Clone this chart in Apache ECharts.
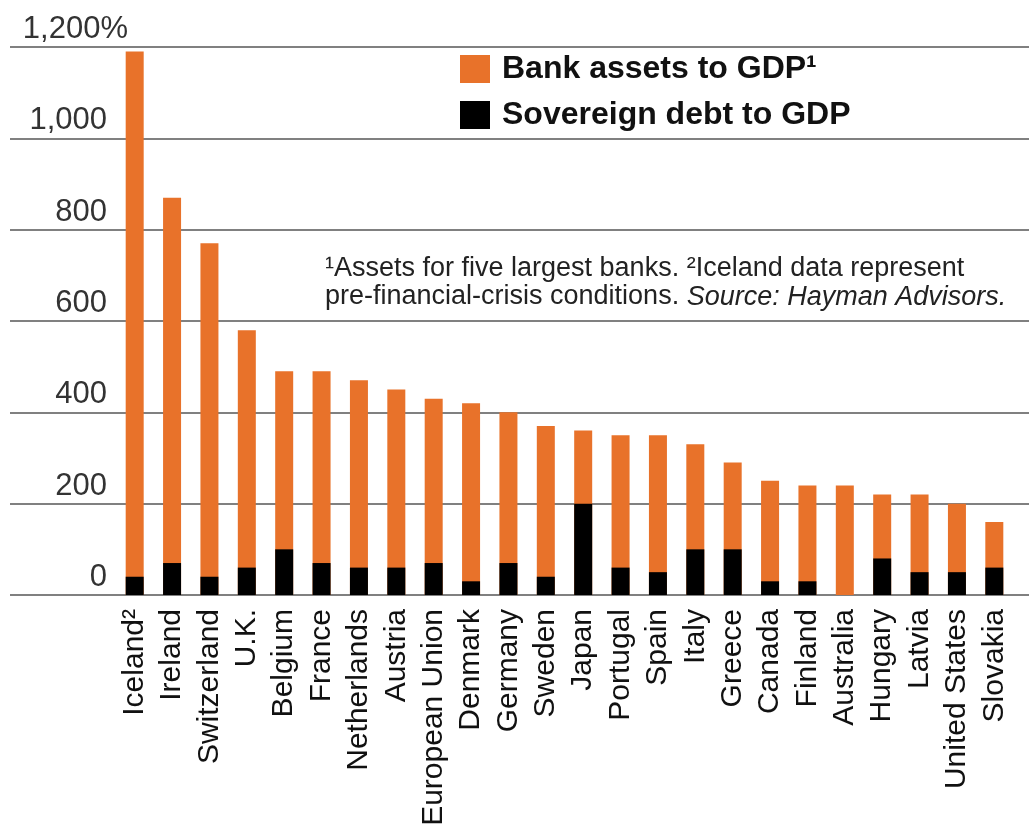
<!DOCTYPE html>
<html>
<head>
<meta charset="utf-8">
<script src="https://cdn.jsdelivr.net/npm/echarts@6/dist/echarts.min.js"></script>
<style>
  html, body { margin: 0; padding: 0; background: #fff; }
  #chart { width: 1029px; height: 830px; }
</style>
</head>
<body>
<div id="chart"></div>
<script>
const countries = ['Iceland²', 'Ireland', 'Switzerland', 'U.K.', 'Belgium', 'France', 'Netherlands',
  'Austria', 'European Union', 'Denmark', 'Germany', 'Sweden', 'Japan', 'Portugal', 'Spain',
  'Italy', 'Greece', 'Canada', 'Finland', 'Australia', 'Hungary', 'Latvia', 'United States', 'Slovakia'];
const bankAssets = [1190, 870, 770, 580, 490, 490, 470, 450, 430, 420, 400, 370, 360, 350, 350,
  330, 290, 250, 240, 240, 220, 220, 200, 160];
const sovereignDebt = [40, 70, 40, 60, 100, 70, 60, 60, 70, 30, 70, 40, 200, 60, 50,
  100, 100, 30, 30, 0, 80, 50, 50, 60];
const yTicks = [0, 200, 400, 600, 800, 1000, 1200];

let chartDom = document.getElementById('chart');
let myChart = echarts.init(chartDom);
let option;

const font = '"Liberation Sans", Arial, sans-serif';

option = {
  backgroundColor: '#fff',
  animation: false,
  textStyle: { fontFamily: font },
  legend: {
    orient: 'vertical',
    left: 455,
    top: 48,
    itemWidth: 30,
    itemHeight: 28,
    itemGap: 14,
    icon: 'rect',
    textStyle: { fontSize: 32, fontWeight: 'bold', color: '#111', fontFamily: font, padding: [0, 0, 0, 7] },
    data: ['Bank assets to GDP¹', 'Sovereign debt to GDP']
  },
  graphic: [{
    type: 'text',
    left: 325,
    top: 255,
    style: {
      text: '¹Assets for five largest banks. ²Iceland data represent\npre-financial-crisis conditions. {i|Source: Hayman Advisors.}',
      font: '27px ' + font,
      fill: '#222',
      lineHeight: 28,
      rich: { i: { fontStyle: 'italic', fontSize: 27, lineHeight: 28, fill: '#222', fontFamily: font } }
    }
  }],
  grid: [
    { left: 10, right: 0, top: 47, bottom: 235 },
    { left: 116, right: 16, top: 47, bottom: 235 }
  ],
  xAxis: [
    { gridIndex: 0, type: 'value', show: false, min: 0, max: 1 },
    {
      gridIndex: 1,
      type: 'category',
      data: countries,
      axisLine: { show: false },
      axisTick: { show: false },
      axisLabel: {
        rotate: 90,
        interval: 0,
        margin: 14,
        fontSize: 30,
        color: '#111',
        fontFamily: font
      }
    }
  ],
  yAxis: [
    {
      gridIndex: 0,
      type: 'value',
      min: yTicks[0],
      max: yTicks[yTicks.length - 1],
      interval: 200,
      axisLine: { show: false },
      axisTick: { show: false },
      splitLine: { lineStyle: { color: '#808080', width: 2 } },
      axisLabel: {
        inside: true,
        margin: 118,
        align: 'right',
        verticalAlign: 'bottom',
        padding: [0, 0, 2, 0],
        fontSize: 31,
        color: '#333',
        fontFamily: font,
        formatter: function (v) {
          const s = v.toLocaleString('en-US');
          return v === 1200 ? s + '%' : s + '{h| }';
        },
        rich: { h: { width: 21, fontSize: 31, fontFamily: font } }
      }
    },
    { gridIndex: 1, type: 'value', min: 0, max: 1200, show: false }
  ],
  series: [
    {
      name: 'Bank assets to GDP¹',
      type: 'bar',
      xAxisIndex: 1,
      yAxisIndex: 1,
      barWidth: 18,
      barGap: '-100%',
      itemStyle: { color: '#e8722a' },
      data: bankAssets
    },
    {
      name: 'Sovereign debt to GDP',
      type: 'bar',
      xAxisIndex: 1,
      yAxisIndex: 1,
      barWidth: 18,
      barGap: '-100%',
      itemStyle: { color: '#000' },
      data: sovereignDebt
    }
  ]
};

option && myChart.setOption(option);
</script>
</body>
</html>
